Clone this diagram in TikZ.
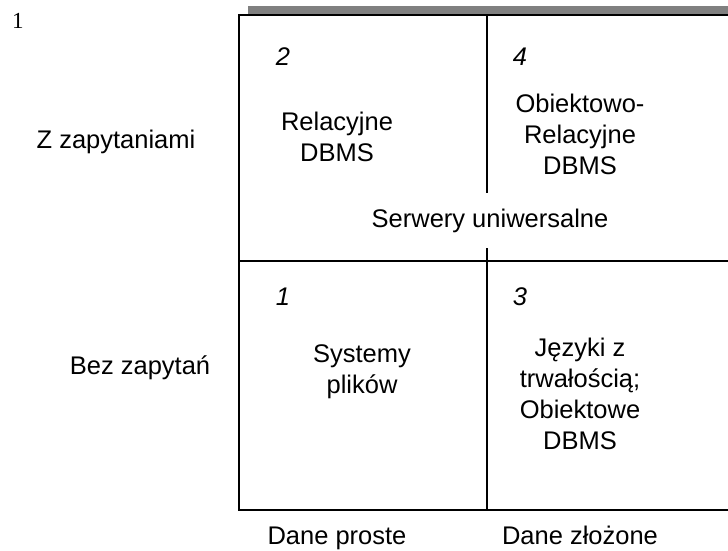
\documentclass[tikz,border=0pt]{standalone}
\usepackage{fontspec}
\setmainfont{Liberation Sans}
\newfontfamily\serifnum{Liberation Serif}
\tikzset{
  lbl/.style={font=\fontsize{25.5}{31}\selectfont, align=center, inner sep=0pt},
  num/.style={font=\fontsize{25.5}{31}\selectfont\itshape, inner sep=0pt},
  frameline/.style={line width=1.4pt, black},
}
\begin{document}
\begin{tikzpicture}[x=1pt,y=-1pt]
\useasboundingbox (0,0) rectangle (728,551);
% gray shadow bar
\fill[gray] (248,6) rectangle (728,14);
% frame
\draw[frameline] (728,15) -- (239,15) -- (239,510) -- (728,510);
\draw[frameline] (239,261) -- (728,261);
\draw[frameline] (487,15) -- (487,193);
\draw[frameline] (487,248) -- (487,510);
% page number
\node[font=\serifnum\fontsize{23}{26}\selectfont, inner sep=0pt] (pg) at (18,21) {1};
% quadrant numbers
\node[num] (n2) at (283,57) {2};
\node[num] (n4) at (520,57) {4};
\node[num] (n1) at (283,297) {1};
\node[num] (n3) at (520,297) {3};
% cell texts
\node[lbl] (rel) at (337,137) {Relacyjne\\DBMS};
\node[lbl] (obrel) at (580,134) {Obiektowo-\\Relacyjne\\DBMS};
\node[lbl] (serw) at (490,221) {Serwery uniwersalne};
\node[lbl] (sys) at (362,372) {Systemy\\plików};
\node[lbl] (jez) at (580,394) {Języki z\\trwałością;\\Obiektowe\\DBMS};
% axis labels
\node[lbl] (zzap) at (116,142) {Z zapytaniami};
\node[lbl] (bez) at (140,368) {Bez zapytań};
\node[lbl, anchor=base] (dp) at (337,544) {Dane proste};
\node[lbl, anchor=base] (dz) at (580,544) {Dane złożone};
\end{tikzpicture}
\end{document}
